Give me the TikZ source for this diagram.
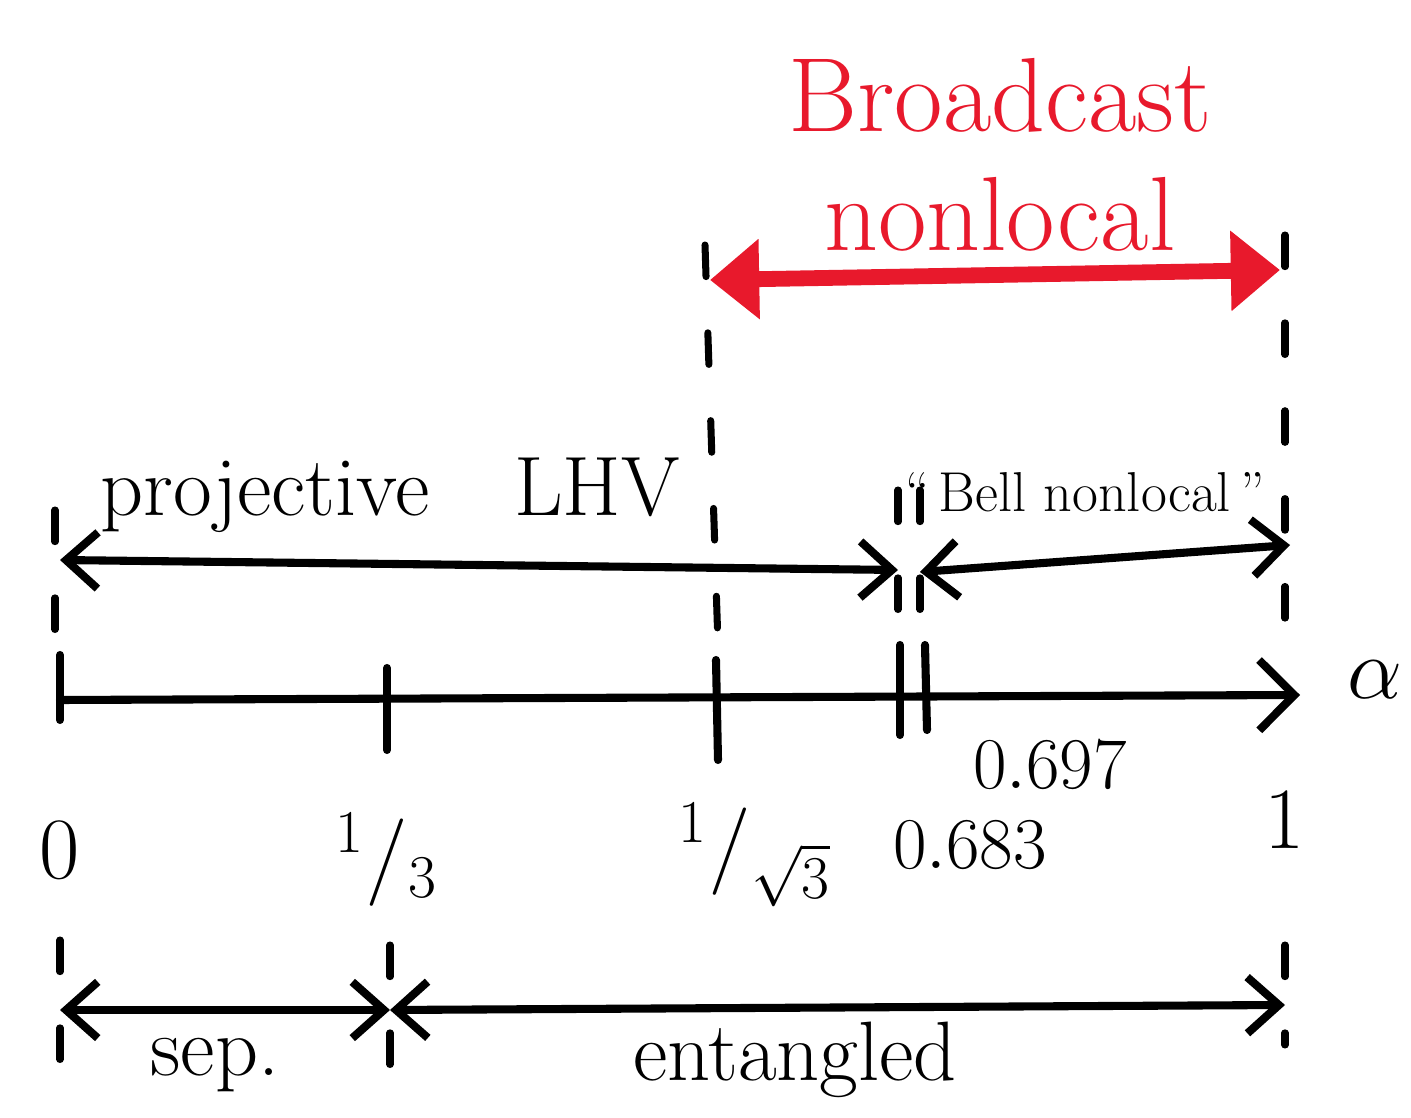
\documentclass[tikz,border=0pt]{standalone}
\usepackage{amsmath}
\usepackage{tikz}
\usetikzlibrary{arrows.meta}
\definecolor{bcred}{HTML}{E8192C}
\begin{document}
\begin{tikzpicture}[
  axisline/.style={line width=2.3pt, line cap=round},
  guide/.style={line width=2pt, dash pattern=on 9pt off 16pt, line cap=round},
  rangearrow/.style={line width=2.3pt, {Straight Barb[length=9pt,width=16pt]}-{Straight Barb[length=9pt,width=16pt]}},
  redarrow/.style={bcred, line width=4.5pt, {Triangle[length=14pt,width=22pt]}-{Triangle[length=14pt,width=22pt]}},
  ticklabel/.style={font=\fontsize{26}{30}\selectfont},
  rangelabel/.style={font=\fontsize{24}{28}\selectfont}
]
\useasboundingbox (0,0) rectangle (14.11,-11.18);
% axis
\coordinate (ax0) at (0.6,-7.0);
\coordinate (ax1) at (13.0,-6.95);
\draw [axisline, -{Straight Barb[length=10pt,width=20pt]}] (ax0) -- (ax1);
\node (alpha) at (13.75,-6.8) {\fontsize{40}{44}\selectfont$\alpha$};
% ticks
\draw [axisline] (0.6,-6.55) -- (0.6,-7.2);
\draw [axisline] (3.87,-6.68) -- (3.87,-7.5);
\draw [axisline] (7.16,-6.6) -- (7.18,-7.6);
\draw [axisline] (9.0,-6.45) -- (9.0,-7.35);
\draw [axisline] (9.25,-6.45) -- (9.27,-7.3);
% tick labels
\node [ticklabel] (l0) at (0.6,-8.5) {$0$};
\node [ticklabel] (l13) at (3.87,-8.6) {$^{1}/_{3}$};
\node [ticklabel] (lsq) at (7.55,-8.55) {$^{1}/_{\sqrt{3}}$};
\node [ticklabel, font=\fontsize{22}{26}\selectfont] (l683) at (9.7,-8.45) {$0.683$};
\node [ticklabel, font=\fontsize{22}{26}\selectfont] (l697) at (10.5,-7.65) {$0.697$};
\node [ticklabel] (l1) at (12.85,-8.2) {$1$};
% dashed guides
\draw [guide] (0.55,-5.1) -- (0.55,-6.4);
\draw [guide] (7.05,-2.45) -- (7.18,-6.45);
\draw [guide] (12.85,-2.35) -- (12.85,-6.6);
\draw [guide] (8.98,-4.9) -- (8.98,-6.4);
\draw [guide] (9.2,-4.9) -- (9.2,-6.4);
\draw [guide] (0.6,-9.4) -- (0.6,-10.8);
\draw [guide] (3.9,-9.45) -- (3.9,-10.7);
\draw [guide] (12.85,-9.45) -- (12.85,-10.45);
% range arrows
\coordinate (pl) at (0.6,-5.6);
\coordinate (pr) at (8.98,-5.7);
\coordinate (bl) at (9.2,-5.72);
\coordinate (br) at (12.9,-5.45);
\draw [rangearrow] (pl) -- (pr);
\draw [rangearrow] (bl) -- (br);
\node [rangelabel] (lhv) at (3.9,-4.95) {projective\quad LHV};
\node [font=\fontsize{16}{20}\selectfont] (bell) at (10.85,-4.92) {``\,Bell nonlocal\,''};
% broadcast nonlocal
\coordinate (rl) at (7.1,-2.8);
\coordinate (rr) at (12.8,-2.7);
\draw [redarrow] (rl) -- (rr);
\node [bcred, align=center, font=\fontsize{30}{34}\selectfont] (bc) at (10.0,-1.55) {Broadcast\\nonlocal};
% bottom ranges
\coordinate (sl) at (0.6,-10.1);
\coordinate (sm) at (3.9,-10.1);
\coordinate (sr) at (12.85,-10.05);
\draw [rangearrow] (sl) -- (sm);
\draw [rangearrow] (sm) -- (sr);
\node [rangelabel] (sep) at (2.15,-10.65) {sep.};
\node [rangelabel] (ent) at (7.95,-10.6) {entangled};
\end{tikzpicture}
\end{document}
